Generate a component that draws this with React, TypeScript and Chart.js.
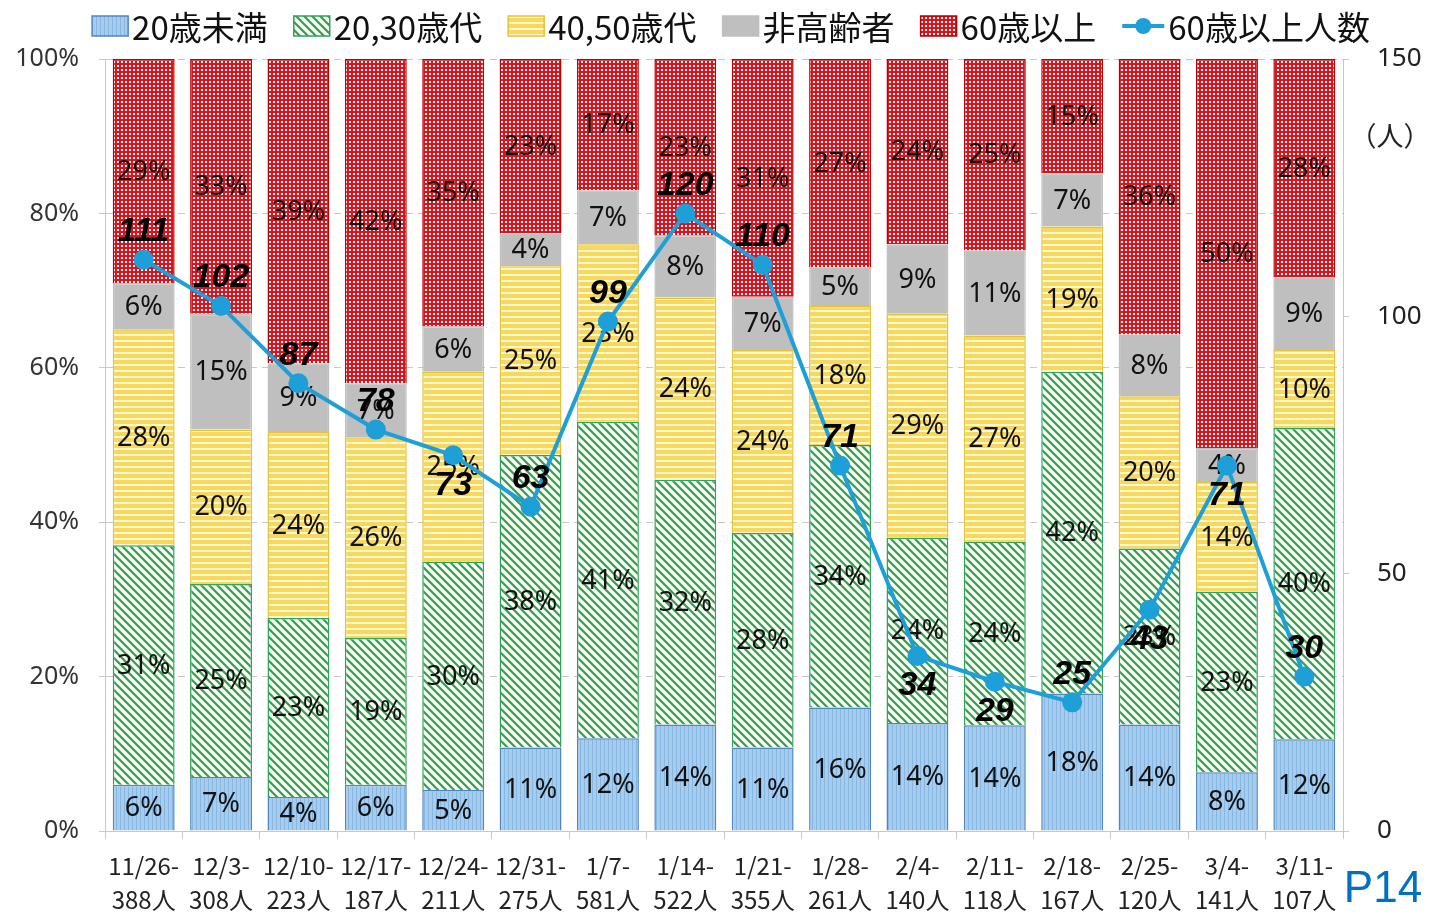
import React, { useEffect, useRef } from 'react';
import { Chart, registerables } from 'chart.js';

Chart.register(...registerables);

// ---------- data ----------
const categories = ['11/26-', '12/3-', '12/10-', '12/17-', '12/24-', '12/31-', '1/7-', '1/14-', '1/21-', '1/28-', '2/4-', '2/11-', '2/18-', '2/25-', '3/4-', '3/11-'];
const totals = ['388人', '308人', '223人', '187人', '211人', '275人', '581人', '522人', '355人', '261人', '140人', '118人', '167人', '120人', '141人', '107人'];

const under20 = [6, 7, 4.4, 6, 5.3, 10.8, 12, 13.8, 10.8, 16, 14, 13.7, 17.8, 13.8, 7.6, 11.9];
const age2030 = [31, 25, 23.2, 19, 29.6, 37.9, 41, 31.7, 27.8, 34, 24, 23.8, 41.7, 22.8, 23.4, 40.3];
const age4050 = [28, 20, 24.1, 26, 24.6, 24.6, 23, 23.6, 23.7, 18, 29, 26.7, 18.8, 19.7, 14.2, 10.1];
const nonElderly = [6, 15, 8.9, 7, 5.9, 4.1, 7, 8.1, 6.9, 5, 9, 11.0, 6.9, 8.0, 4.4, 9.4];
const over60 = [29, 33, 39.4, 42, 34.6, 22.6, 17, 22.8, 30.8, 27, 24, 24.8, 14.8, 35.7, 50.4, 28.3];

const over60Count = [111, 102, 87, 78, 73, 63, 99, 120, 110, 71, 34, 29, 25, 43, 71, 30];
// which side of the point each count label sits on
const countLabelSide = ['above', 'above', 'above', 'above', 'below', 'above', 'above', 'above', 'above', 'above', 'below', 'below', 'above', 'below', 'below', 'above'];

const seriesNames = ['20歳未満', '20,30歳代', '40,50歳代', '非高齢者', '60歳以上', '60歳以上人数'];
const pctTicks = [0, 20, 40, 60, 80, 100];
const countTicks = [0, 50, 100, 150];

// ---------- patterns ----------
function makePattern(w: number, h: number, draw: (g: CanvasRenderingContext2D) => void) {
  const c = document.createElement('canvas');
  c.width = w;
  c.height = h;
  const g = c.getContext('2d')!;
  draw(g);
  return g.createPattern(c, 'repeat')!;
}

function buildPatterns() {
  const blue = makePattern(4, 4, (g) => {
    g.fillStyle = '#A7CCEC';
    g.fillRect(0, 0, 4, 4);
    g.fillStyle = '#86B6E2';
    g.fillRect(0, 0, 1, 4);
  });
  const green = makePattern(8, 8, (g) => {
    g.fillStyle = '#FAFAEF';
    g.fillRect(0, 0, 8, 8);
    g.strokeStyle = '#2E9E58';
    g.lineWidth = 2.2;
    g.beginPath();
    g.moveTo(-2, -2);
    g.lineTo(10, 10);
    g.moveTo(-2, 6);
    g.lineTo(2, 10);
    g.moveTo(6, -2);
    g.lineTo(10, 2);
    g.stroke();
  });
  const yellow = makePattern(4, 6, (g) => {
    g.fillStyle = '#F6D95C';
    g.fillRect(0, 0, 4, 6);
    g.fillStyle = '#FFF7CF';
    g.fillRect(0, 4, 4, 2);
  });
  const red = makePattern(4, 4, (g) => {
    g.fillStyle = '#DC121C';
    g.fillRect(0, 0, 4, 4);
    g.fillStyle = '#FFFFFF';
    g.fillRect(1, 1, 2, 2);
  });
  return { blue, green, yellow, red };
}

const FONT_CJK = '"Noto Sans CJK JP", "Noto Sans", sans-serif';

export default function App() {
  const ref = useRef<HTMLCanvasElement>(null);

  useEffect(() => {
    const p = buildPatterns();
    const fills: any[] = [p.blue, p.green, p.yellow, '#BFBFBF', p.red];
    const borders = ['#4F86BF', '#2FA35A', '#E5C23C', '#BFBFBF', '#C00000'];
    const barSeries = [under20, age2030, age4050, nonElderly, over60];
    const lineColor = '#1E9FD8';

    const labelsPlugin = {
      id: 'customLabels',
      beforeDatasetDraw(chart: any, args: any) {
        if (args.index !== 5) return;
        const ctx = chart.ctx;
        ctx.save();
        ctx.font = '27px "Noto Sans", sans-serif';
        ctx.fillStyle = '#111';
        ctx.textAlign = 'center';
        ctx.textBaseline = 'middle';
        for (let d = 0; d < 5; d++) {
          const meta = chart.getDatasetMeta(d);
          const vals = chart.data.datasets[d].data as number[];
          meta.data.forEach((bar: any, i: number) => {
            const { x, y, base } = bar.getProps(['x', 'y', 'base'], true);
            ctx.fillText(Math.round(vals[i]) + '%', x, (y + base) / 2 + 1);
          });
        }
        ctx.restore();
      },
      afterDatasetsDraw(chart: any) {
        const ctx = chart.ctx;
        const meta = chart.getDatasetMeta(5);
        ctx.save();
        ctx.font = 'italic bold 34px "Liberation Sans", Arial, sans-serif';
        ctx.fillStyle = '#000';
        ctx.textAlign = 'center';
        ctx.textBaseline = 'middle';
        meta.data.forEach((pt: any, i: number) => {
          const { x, y } = pt.getProps(['x', 'y'], true);
          const dy = countLabelSide[i] === 'above' ? -28 : 30;
          ctx.fillText(String(over60Count[i]), x, y + dy);
        });
        ctx.restore();
      },
      afterDraw(chart: any) {
        const ctx = chart.ctx;
        ctx.save();
        // legend
        ctx.font = '33px ' + FONT_CJK;
        ctx.textBaseline = 'middle';
        const boxW = 36;
        const boxH = 20;
        const gapBox = 4;
        const gapItem = 26;
        const widths = seriesNames.map((n, i) => (i === 5 ? 42 : boxW) + gapBox + ctx.measureText(n).width);
        const total = widths.reduce((a, b) => a + b, 0) + gapItem * (seriesNames.length - 1);
        let x = 731 - total / 2;
        const cy = 26;
        seriesNames.forEach((n, i) => {
          if (i < 5) {
            ctx.fillStyle = fills[i];
            ctx.fillRect(x, cy - boxH / 2, boxW, boxH);
            ctx.strokeStyle = borders[i];
            ctx.lineWidth = 1.5;
            ctx.strokeRect(x, cy - boxH / 2, boxW, boxH);
            x += boxW + gapBox;
          } else {
            ctx.strokeStyle = lineColor;
            ctx.lineWidth = 4;
            ctx.beginPath();
            ctx.moveTo(x, cy);
            ctx.lineTo(x + 42, cy);
            ctx.stroke();
            ctx.fillStyle = lineColor;
            ctx.beginPath();
            ctx.arc(x + 21, cy, 8, 0, Math.PI * 2);
            ctx.fill();
            x += 42 + gapBox;
          }
          ctx.fillStyle = '#111';
          ctx.textAlign = 'left';
          ctx.fillText(n, x, cy + 1);
          x += ctx.measureText(n).width + gapItem;
        });
        // right axis tick labels (from the y1 scale)
        const y1 = chart.scales.y1;
        ctx.font = '26px "Noto Sans", sans-serif';
        ctx.fillStyle = '#222';
        ctx.textAlign = 'left';
        ctx.textBaseline = 'middle';
        countTicks.forEach((v) => {
          ctx.fillText(String(v), chart.chartArea.right + 34, y1.getPixelForValue(v));
        });
        // right axis unit
        ctx.font = '27px ' + FONT_CJK;
        ctx.textAlign = 'center';
        ctx.fillStyle = '#222';
        ctx.fillText('（人）', 1390, 136);
        // page number
        ctx.font = '44px "Liberation Sans", Arial, sans-serif';
        ctx.fillStyle = '#0070C0';
        ctx.textBaseline = 'alphabetic';
        ctx.fillText('P14', 1383, 902);
        ctx.restore();
      },
    };

    const chart = new Chart(ref.current!, {
      type: 'bar',
      data: {
        labels: categories,
        datasets: [
          ...barSeries.map((data, i) => ({
            type: 'bar' as const,
            label: seriesNames[i],
            data,
            backgroundColor: fills[i],
            borderColor: borders[i],
            borderWidth: 1.5,
            yAxisID: 'y',
            stack: 'pct',
            order: 1,
            categoryPercentage: 0.8,
            barPercentage: 1.0,
          })),
          {
            type: 'line' as const,
            label: seriesNames[5],
            data: over60Count,
            yAxisID: 'y1',
            borderColor: lineColor,
            backgroundColor: lineColor,
            borderWidth: 4,
            pointRadius: 8,
            pointBackgroundColor: lineColor,
            pointBorderColor: lineColor,
            tension: 0,
            order: 0,
          } as any,
        ],
      },
      options: {
        animation: false,
        responsive: true,
        maintainAspectRatio: false,
        layout: { padding: { top: 59, bottom: 0, left: 0, right: 0 } },
        plugins: {
          legend: { display: false },
          tooltip: { enabled: false },
        },
        scales: {
          x: {
            stacked: true,
            grid: { display: true, drawOnChartArea: false, drawTicks: true, tickLength: 8, color: '#C8C8C8', offset: true },
            border: { display: true, color: '#C8C8C8' },
            ticks: {
              autoSkip: false,
              maxRotation: 0,
              minRotation: 0,
              padding: 10,
              color: '#222',
              font: { size: 24, family: FONT_CJK, lineHeight: 1.42 },
              callback: (_v: any, i: number) => [categories[i], totals[i]],
            },
            afterFit: (s: any) => {
              s.height = 82;
            },
          },
          y: {
            stacked: true,
            position: 'left',
            min: 0,
            max: 100,
            afterBuildTicks: (s: any) => {
              s.ticks = pctTicks.map((v) => ({ value: v }));
            },
            ticks: {
              color: '#333',
              padding: 20,
              font: { size: 25, family: '"Noto Sans", sans-serif' },
              callback: (v: any) => v + '%',
            },
            grid: { color: '#C8C8C8', tickLength: 6, drawTicks: true },
            border: { display: true, color: '#C8C8C8', dash: [7, 5] },
            afterFit: (s: any) => {
              s.width = 105;
            },
          },
          y1: {
            position: 'right',
            min: 0,
            max: 150,
            afterBuildTicks: (s: any) => {
              s.ticks = countTicks.map((v) => ({ value: v }));
            },
            ticks: { display: false },
            grid: { drawOnChartArea: false, color: '#C8C8C8', tickLength: 6, drawTicks: true },
            border: { display: true, color: '#C8C8C8' },
            afterFit: (s: any) => {
              s.width = 96;
            },
          },
        },
      } as any,
      plugins: [labelsPlugin],
    });
    return () => chart.destroy();
  }, []);

  return (
    <div style={{ position: 'absolute', left: 0, top: 0, width: 1439, height: 913, background: '#fff' }}>
      <canvas ref={ref} />
    </div>
  );
}
